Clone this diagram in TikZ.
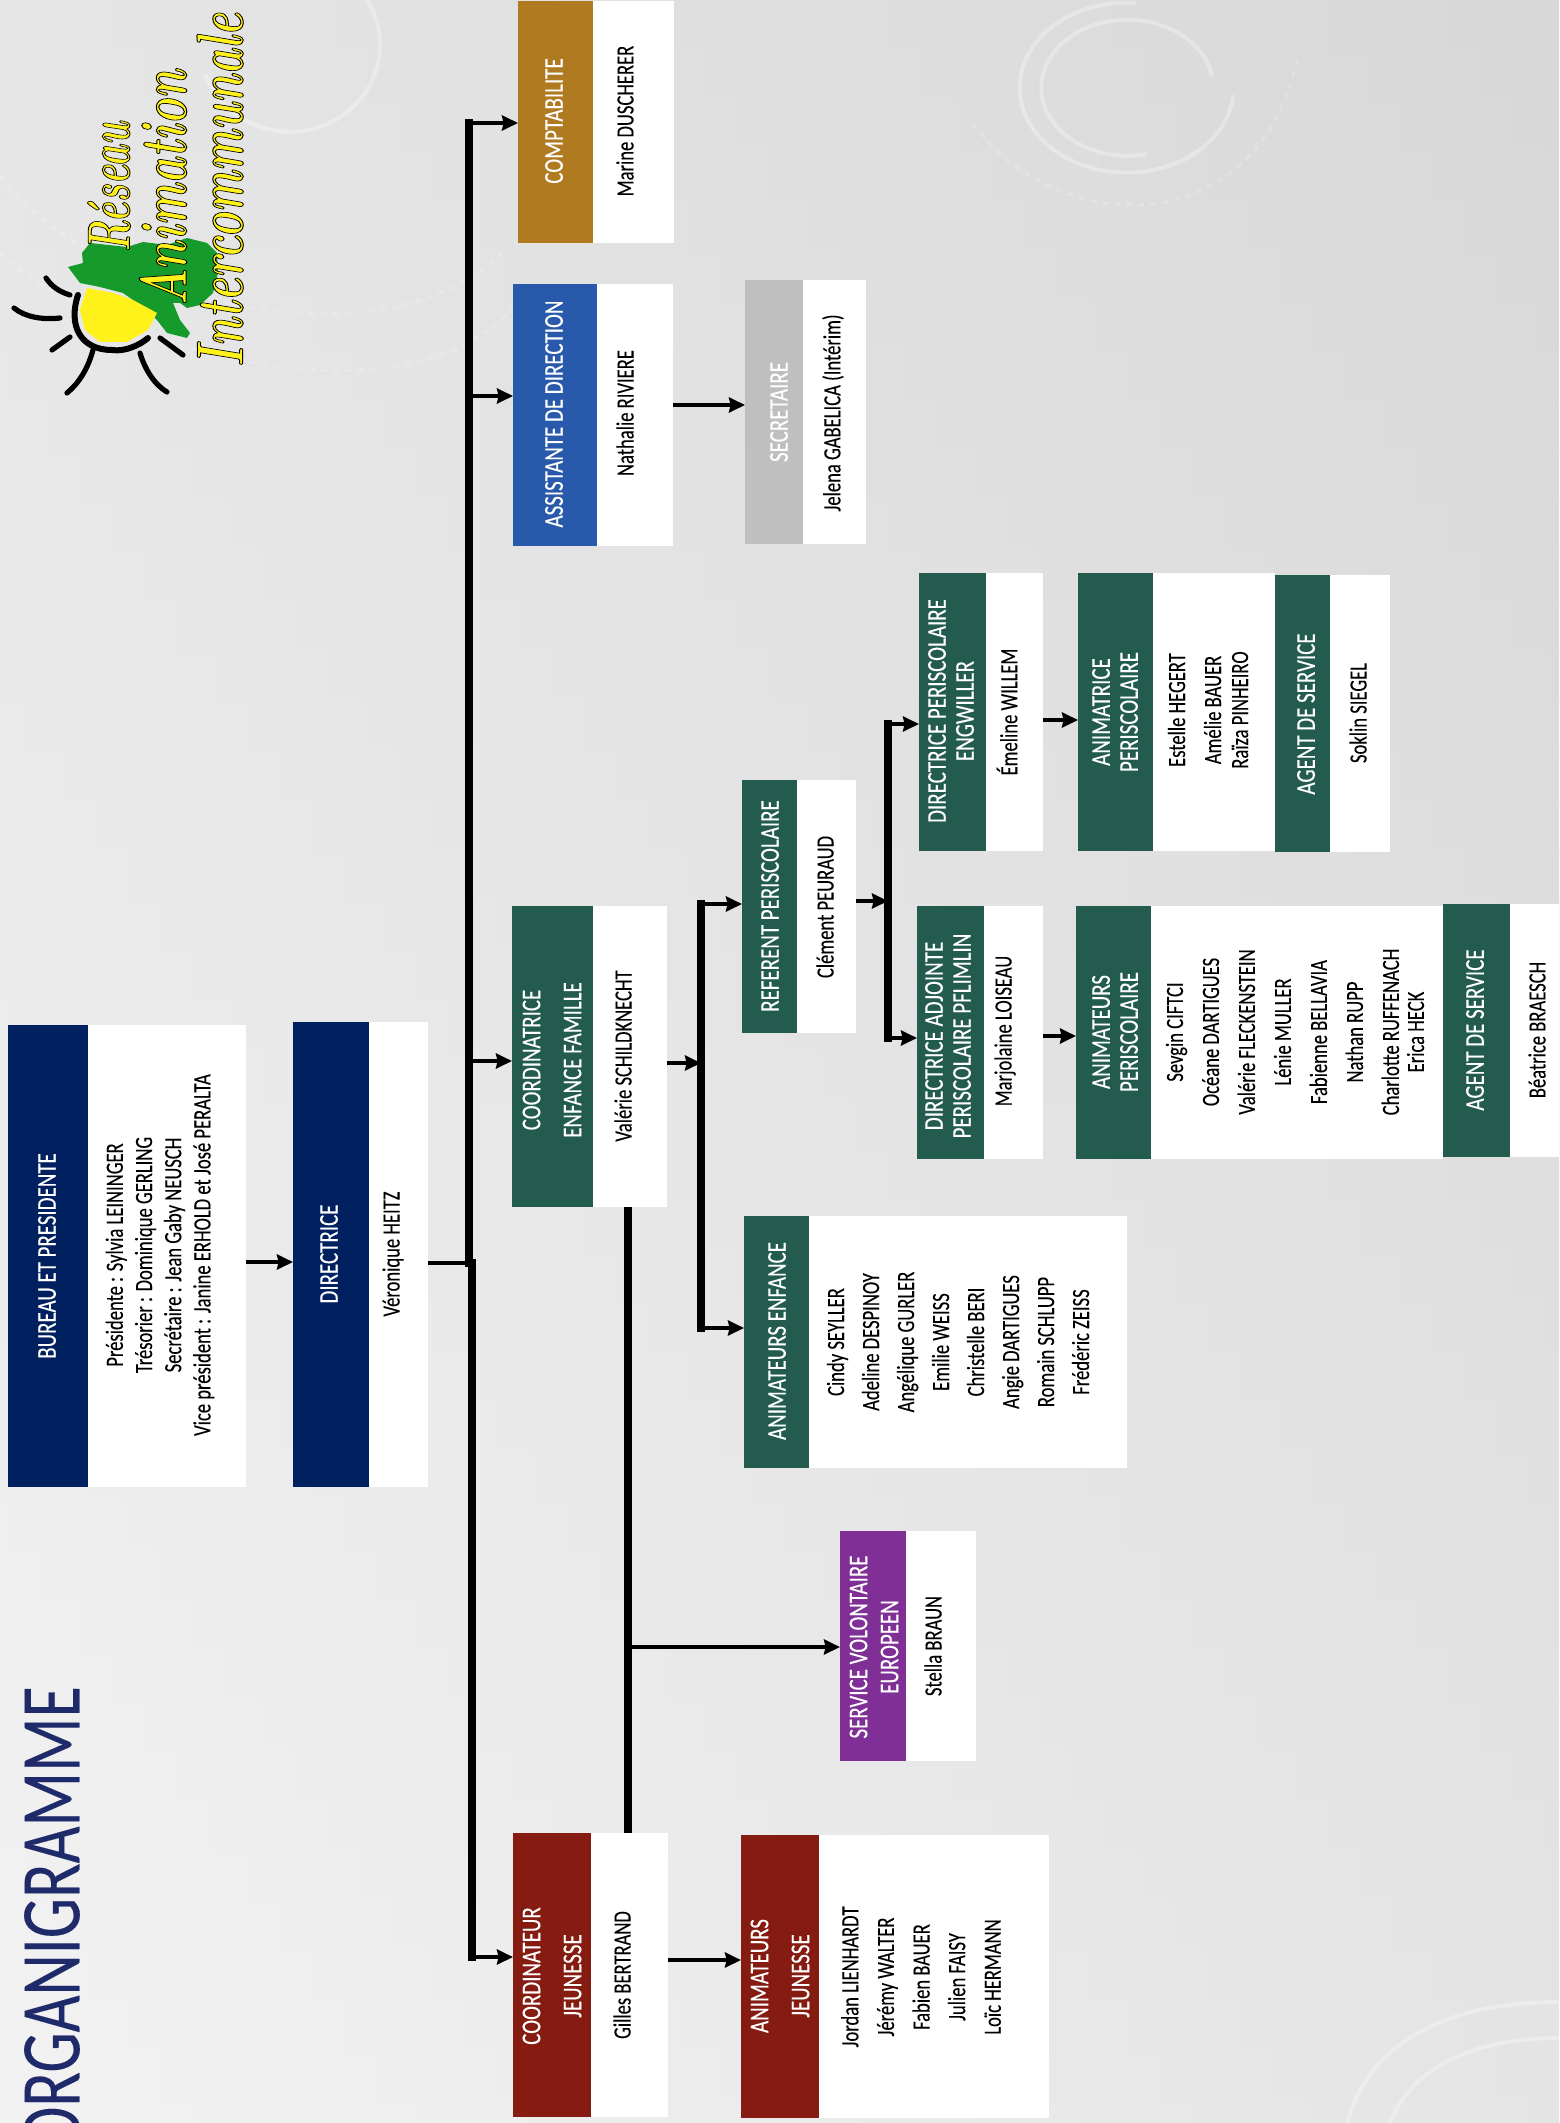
\documentclass[tikz,border=0pt]{standalone}
\usepackage{fontspec}
\usetikzlibrary{arrows.meta}
\newfontfamily\bodyfont[FakeStretch=0.75,FakeBold=0.15]{Carlito}
\newfontfamily\headfont[FakeStretch=0.77,FakeBold=0.2]{Carlito}
\definecolor{navy}{HTML}{012060}
\definecolor{forest}{HTML}{235C4E}
\definecolor{ochre}{HTML}{B07A20}
\definecolor{royal}{HTML}{2859AB}
\definecolor{ash}{HTML}{BFBFBF}
\definecolor{plum}{HTML}{7F2F96}
\definecolor{wine}{HTML}{851B11}
\definecolor{titleblue}{HTML}{1F2A6B}
\definecolor{leaf}{HTML}{159A2B}
\definecolor{sunny}{HTML}{FFF21A}
\tikzset{
  cell/.style={rotate=90,inner sep=0pt,outer sep=0pt,draw=none},
  headtxt/.style={rotate=90,inner sep=0pt,text=white,align=center,font=\headfont\fontsize{13.6pt}{14pt}\selectfont},
  bodytxt/.style={rotate=90,inner sep=0pt,text=black,align=center,font=\bodyfont\fontsize{12.4pt}{14pt}\selectfont},
  bar/.style={line width=4.2pt,line cap=rect,black},
  stem/.style={line width=2.3pt,black,-{Stealth[length=8pt,width=7.5pt,inset=0.8pt]}},
  plain/.style={line width=2.3pt,black},
  ray/.style={line width=2.6pt,line cap=round,black},
  arcline/.style={white,opacity=0.3,line width=2pt},
  faintarc/.style={white,opacity=0.18,line width=1.5pt,dashed},
  logotxt/.style={rotate=90,inner sep=0pt,text=sunny},
}
% name, x1 (head left), x2 (head right), x3 (white right), y1, y2, colour
\newcommand{\orgcell}[7]{%
  \node[cell,fill=white,minimum width={(#6-#5)*0.5pt},minimum height={(#4-#3)*0.5pt}] (#1B) at ({(#3+#4)/2},{(#5+#6)/2}) {};
  \node[cell,fill=#7,minimum width={(#6-#5)*0.5pt},minimum height={(#3-#2)*0.5pt}] (#1H) at ({(#2+#3)/2},{(#5+#6)/2}) {};
}
\newcommand{\outlined}[2]{\special{pdf:code q 2 Tr #1 w 0 0 0 RG}#2\special{pdf:code Q}}
\begin{document}
\begin{tikzpicture}[x=0.5pt,y=-0.5pt]
\useasboundingbox (0,0) rectangle (1559,2123);
% background
\foreach \i in {0,...,42}{
  \pgfmathsetmacro{\lval}{90+5*\i/42}
  \pgfmathsetmacro{\rval}{84.5+5*\i/42}
  \colorlet{bgl}{white!\lval!black}
  \colorlet{bgr}{white!\rval!black}
  \shade[left color=bgl,right color=bgr] (0,{\i*50}) rectangle (1559,{(\i+1)*50+2});
}
\clip (0,0) rectangle (1559,2123);
\draw[arcline] (328,-34) arc[start angle=-65,end angle=160,x radius=90,y radius=87];
\draw[faintarc] (0,175) .. controls (80,290) and (380,380) .. (504,250);
\draw[faintarc] (0,253) .. controls (90,340) and (400,440) .. (518,303);
\draw[arcline] (1136,3) arc[start angle=-85,end angle=-355,x radius=107,y radius=85];
\draw[arcline] (1212,76) arc[start angle=-10,end angle=-283,x radius=86,y radius=68];
\draw[faintarc] (973,123) .. controls (1040,225) and (1250,260) .. (1297,60);
\draw[arcline] (1347,2123) .. controls (1370,2040) and (1450,2002) .. (1559,2002);
\draw[arcline] (1390,2123) .. controls (1410,2070) and (1470,2038) .. (1559,2038);

% title
\node[rotate=90,anchor=east,inner sep=0pt,text=titleblue,font=\bodyfont\fontsize{42.5pt}{46pt}\selectfont] (title) at (52,1686) {ORGANIGRAMME};

% logo
\fill[leaf] (68,267) -- (83,263) -- (82,253) -- (90,243) -- (127,247) -- (143,242) -- (167,245) -- (187,238) -- (207,243) -- (217,253) -- (218,273) -- (213,293) -- (200,305) -- (187,308) -- (180,303) -- (173,303) -- (180,320) -- (190,333) -- (187,338) -- (167,333) -- (157,320) -- (143,307) -- (123,293) -- (100,287) -- (80,283) -- cycle;
\fill[sunny] (87,288) -- (113,293) -- (133,300) -- (157,313) -- (148,330) -- (127,342) -- (100,342) -- (85,330) -- (80,310) -- cycle;
\draw[line width=3pt,line cap=round,black] (78,295) .. controls (68,325) and (80,350) .. (112,350) .. controls (125,352) and (140,345) .. (148,338);
\draw[ray] (46,278) .. controls (52,287) and (60,292) .. (70,295);
\draw[ray] (14,308) .. controls (25,317) and (42,320) .. (60,318);
\draw[ray] (52,350) -- (70,337);
\draw[ray] (67,393) .. controls (80,382) and (88,368) .. (93,350);
\draw[ray] (167,392) .. controls (155,385) and (145,370) .. (140,353);
\draw[ray] (160,338) -- (183,355);
\node[logotxt] (logoA) at (109,187) {\color{sunny}\resizebox{65pt}{21pt}{\outlined{0.15}{\bfseries\itshape Réseau}}};
\node[logotxt] (logoB) at (163,188) {\color{sunny}\resizebox{118pt}{23.5pt}{\outlined{0.15}{\bfseries\itshape Animation}}};
\node[logotxt] (logoC) at (220,190) {\color{sunny}\resizebox{177pt}{23pt}{\outlined{0.15}{\bfseries\itshape Intercommunale}}};

% boxes
\orgcell{bur}{8}{88}{246}{1025}{1487}{navy}
\orgcell{dir}{293}{369}{428}{1022}{1487}{navy}
\orgcell{cpt}{518}{593}{674}{1}{243}{ochre}
\orgcell{ass}{513}{597}{673}{284}{546}{royal}
\orgcell{sec}{745}{803}{866}{280}{544}{ash}
\orgcell{coe}{512}{593}{667}{906}{1207}{forest}
\orgcell{ref}{742}{797}{856}{780}{1033}{forest}
\orgcell{ane}{744}{809}{1127}{1216}{1468}{forest}
\orgcell{eng}{919}{986}{1043}{573}{851}{forest}
\orgcell{pfl}{917}{984}{1043}{906}{1159}{forest}
\orgcell{ati}{1078}{1153}{1275}{573}{851}{forest}
\orgcell{agu}{1275}{1330}{1390}{575}{852}{forest}
\orgcell{atp}{1076}{1151}{1443}{906}{1159}{forest}
\orgcell{agp}{1443}{1510}{1559}{904}{1157}{forest}
\orgcell{svc}{840}{906}{976}{1531}{1761}{plum}
\orgcell{coj}{513}{591}{668}{1833}{2117}{wine}
\orgcell{anj}{741}{819}{1049}{1835}{2118}{wine}

% texts
\node[headtxt] (burT) at (47,1256) {BUREAU ET PRESIDENTE};
\node[bodytxt] (burN) at (160,1255) {Présidente : Sylvia LEININGER\\[0.6pt]Trésorier : Dominique GERLING\\[0.6pt]Secrétaire : Jean Gaby NEUSCH\\[0.6pt]Vice président : Janine ERHOLD et José PERALTA};
\node[headtxt] (dirT) at (329,1254) {DIRECTRICE};
\node[bodytxt] (dirN) at (393,1254) {Véronique HEITZ};
\node[headtxt] (cptT) at (554,121) {COMPTABILITE};
\node[bodytxt] (cptN) at (625,121) {Marine DUSCHERER};
\node[headtxt] (assT) at (554,414) {ASSISTANTE DE DIRECTION};
\node[bodytxt] (assN) at (625,413) {Nathalie RIVIERE};
\node[headtxt] (secT) at (779,412) {SECRETAIRE};
\node[bodytxt] (secN) at (833,413) {Jelena GABELICA (Intérim)};
\node[headtxt] (coeT) at (552,1060) {COORDINATRICE\\[6.5pt]ENFANCE FAMILLE};
\node[bodytxt] (coeN) at (623,1056) {Valérie SCHILDKNECHT};
\node[headtxt] (refT) at (770,906) {REFERENT PERISCOLAIRE};
\node[bodytxt] (refN) at (825,907) {Clément PEURAUD};
\node[headtxt] (aneT) at (777,1341) {ANIMATEURS ENFANCE};
\node[bodytxt] (aneN) at (958,1342) {Cindy SEYLLER\\[3.5pt]Adeline DESPINOY\\[3.5pt]Angélique GURLER\\[3.5pt]Emilie WEISS\\[3.5pt]Christelle BERI\\[3.5pt]Angie DARTIGUES\\[3.5pt]Romain SCHLUPP\\[3.5pt]Frédéric ZEISS};
\node[headtxt] (engT) at (951,711) {DIRECTRICE PERISCOLAIRE\\ENGWILLER};
\node[bodytxt] (engN) at (1007,712) {Émeline WILLEM};
\node[headtxt] (pflT) at (948,1036) {DIRECTRICE ADJOINTE\\PERISCOLAIRE PFLIMLIN};
\node[bodytxt] (pflN) at (1005,1031) {Marjolaine LOISEAU};
\node[headtxt] (atiT) at (1115,712) {ANIMATRICE\\PERISCOLAIRE};
\node[bodytxt] (atiN) at (1208,710) {Estelle HEGERT\\[4pt]Amélie BAUER\\[-0.5pt]Raïza PINHEIRO};
\node[headtxt] (aguT) at (1306,714) {AGENT DE SERVICE};
\node[bodytxt] (aguN) at (1358,713) {Soklin SIEGEL};
\node[headtxt] (atpT) at (1115,1032) {ANIMATEURS\\PERISCOLAIRE};
\node[bodytxt] (atpN) at (1295,1032) {Sevgin CIFTCI\\[4pt]Océane DARTIGUES\\[4pt]Valérie FLECKENSTEIN\\[4pt]Lénie MULLER\\[4pt]Fabienne BELLAVIA\\[4pt]Nathan RUPP\\[4pt]Charlotte RUFFENACH\\[-1.5pt]Erica HECK};
\node[headtxt] (agpT) at (1475,1030) {AGENT DE SERVICE};
\node[bodytxt] (agpN) at (1537,1030) {Béatrice BRAESCH};
\node[headtxt] (svcT) at (874,1647) {SERVICE VOLONTAIRE\\[1.5pt]EUROPEEN};
\node[bodytxt] (svcN) at (933,1646) {Stella BRAUN};
\node[headtxt] (cojT) at (552,1976) {COORDINATEUR\\[6.5pt]JEUNESSE};
\node[bodytxt] (cojN) at (622,1975) {Gilles BERTRAND};
\node[headtxt] (anjT) at (780,1976) {ANIMATEURS\\[6.5pt]JEUNESSE};
\node[bodytxt] (anjN) at (921,1977) {Jordan LIENHARDT\\[3.8pt]Jérémy WALTER\\[3.8pt]Fabien BAUER\\[3.8pt]Julien FAISY\\[3.8pt]Loïc HERMANN};

% connector junctions
\coordinate (jT) at (469,123);
\coordinate (jM) at (469,1263);
\coordinate (jL) at (472,1263);
\coordinate (jB) at (472,1957);
\coordinate (kT) at (701,904);
\coordinate (kB) at (701,1328);
\coordinate (mT) at (888,724);
\coordinate (mB) at (888,1038);

% connectors
\draw[stem] (burB.south |- 0,1262) -- (dirH.north |- 0,1262);
\draw[plain] (dirB.south |- 0,1263) -- (jL);
\draw[bar] (jT) -- (jM);
\draw[bar] (jL) -- (jB);
\draw[stem] (jT) -- (cptH.north |- jT);
\draw[stem] (469,396) -- (assH.north |- 0,396);
\draw[stem] (469,1061) -- (coeH.north |- 0,1061);
\draw[stem] (jB) -- (cojH.north |- jB);
\draw[stem] (assB.south |- 0,405) -- (secH.north |- 0,405);
\draw[line width=4.4pt,black] (coeB.west -| 628,0) -- (cojH.east -| 628,0);
\draw[stem] (628,1647) -- (svcH.north |- 0,1647);
\draw[stem] (cojB.south |- 0,1960) -- (anjH.north |- 0,1960);
\draw[stem] (coeB.south |- 0,1063) -- (701,1063);
\draw[line width=3.6pt,line cap=rect,black] (kT) -- (kB);
\draw[stem] (kT) -- (refH.north |- kT);
\draw[stem] (kB) -- (aneH.north |- kB);
\draw[stem] (refB.south |- 0,901) -- (888,901);
\draw[line width=3.6pt,line cap=rect,black] (mT) -- (mB);
\draw[stem] (mT) -- (engH.north |- mT);
\draw[stem] (mB) -- (pflH.north |- mB);
\draw[stem] (engB.south |- 0,720) -- (atiH.north |- 0,720);
\draw[stem] (pflB.south |- 0,1036) -- (atpH.north |- 0,1036);
\end{tikzpicture}
\end{document}
